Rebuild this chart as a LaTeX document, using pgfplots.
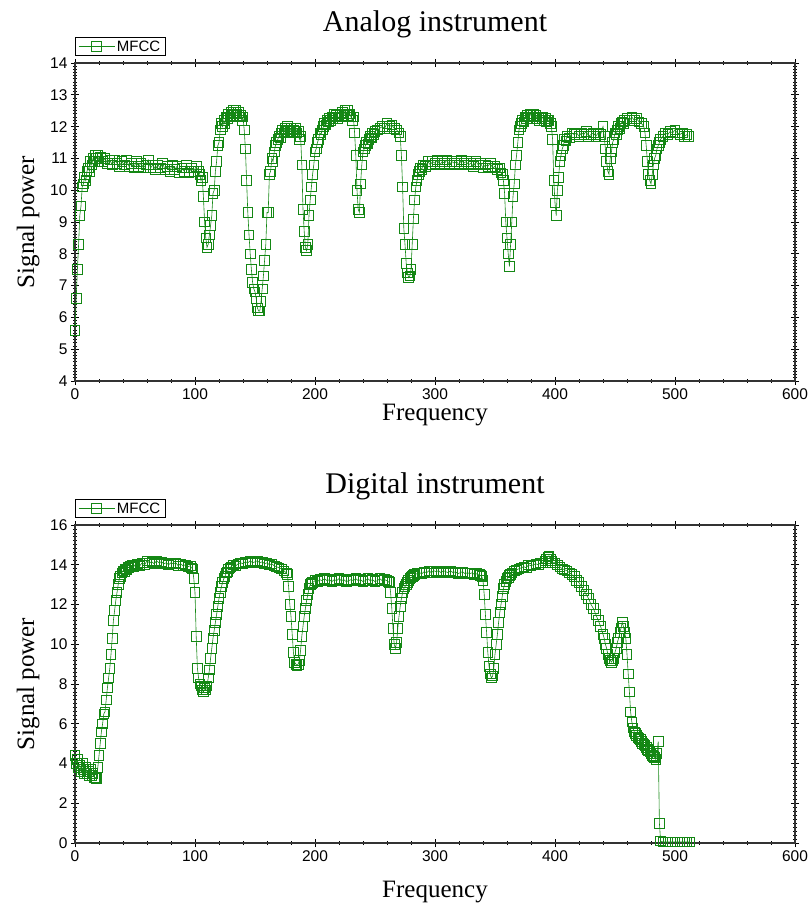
\documentclass[border=0pt]{standalone}
\usepackage{pgfplots}
\pgfplotsset{compat=1.18}
\usepackage{fontspec}
\setmainfont{Liberation Serif}
\newfontfamily\arial{Liberation Sans}
\definecolor{mfcc}{RGB}{20,135,20}

\pgfplotsset{
  panel/.style={
    scale only axis, width=720pt, height=318pt,
    xmin=0, xmax=600, xtick={0,100,...,600}, minor x tick num=4,
    axis line style={line width=1.2pt, black!80},
    every tick/.style={black, line width=0.9pt},
    tick align=center, major tick length=8pt, minor tick length=4pt,
    minor y tick num=9,
    ticklabel style={font=\arial\fontsize{15.5}{15.5}\selectfont},
    /pgf/number format/assume math mode=true,
    title style={font=\fontsize{30}{30}\selectfont, at={(0.5,1.08)}, anchor=base},
    xlabel style={font=\fontsize{25}{25}\selectfont, anchor=base},
    ylabel style={font=\fontsize{25}{25}\selectfont, at={(-0.065,0.5)}, anchor=center},
    xlabel={Frequency}, ylabel={Signal power},
    legend style={at={(0,1)}, anchor=south west, yshift=7pt, draw=black, line width=0.8pt,
      font=\arial\fontsize{15}{15}\selectfont, inner xsep=3pt, inner ysep=1pt, row sep=0pt},
    legend image code/.code={\draw[mark repeat=2,mark phase=2] plot coordinates {(0pt,0pt)(18pt,0pt)(36pt,0pt)};},
  },
  series/.style={color=mfcc, line width=0.6pt, mark=square, mark size=4.8pt,
    mark options={line width=0.8pt}},
}

\begin{document}
\begin{tikzpicture}
\useasboundingbox (-75pt,-523pt) rectangle (734pt,381pt);
\begin{axis}[panel, ymin=4, ymax=14, ytick={4,5,...,14}, title={Analog instrument},
  xlabel style={at={(0.5,-0.125)}}]
\addplot[series] coordinates {
(0,5.6)(1,6.6)(2,7.5)(3,8.3)(4,9.2)(5,9.5)(6,10.1)(7,10.2)(8,10.4)(9,10.3)(10,10.6)(11,10.7)(12,10.6)(13,10.9)(14,10.8)(15,11.0)(16,10.9)(17,11.1)(18,11.0)(19,11.1)(20,10.9)
(21,11.05)(23,10.9)(25,11.0)(27,10.85)(29,10.95)(31,10.8)(33,10.95)(35,10.85)(37,10.75)(39,10.9)(41,10.8)(43,10.95)(45,10.75)(47,10.85)(49,10.7)(51,10.9)(53,10.75)(55,10.85)(57,10.7)(59,10.8)
(61,10.95)(63,10.7)(65,10.8)(67,10.65)(69,10.8)(71,10.7)(73,10.85)(75,10.65)(77,10.75)(79,10.6)(81,10.8)(83,10.65)(85,10.75)(87,10.55)(89,10.7)(91,10.6)(93,10.8)(95,10.55)(97,10.7)(99,10.6)
(101,10.75)(103,10.6)(104,10.5)(105,10.3)(106,10.4)(107,9.8)(108,9.0)(109,8.5)(110,8.2)(111,8.3)(112,8.6)(113,8.9)(114,9.2)(115,9.9)(116,10.0)(117,10.6)(118,10.9)(119,11.4)(120,11.5)
(121,11.9)(122,12.1)(123,12.0)(124,12.2)(125,12.1)(126,12.3)(127,12.25)(128,12.4)(129,12.3)(130,12.45)(131,12.35)(132,12.5)(133,12.4)(134,12.5)(135,12.4)(136,12.45)(137,12.3)(138,12.35)(139,12.2)(140,12.3)
(141,11.9)(142,11.3)(143,10.3)(144,9.3)(145,8.6)(146,8.0)(147,7.5)(148,7.1)(149,6.9)(150,6.8)(151,6.6)(152,6.3)(153,6.2)(154,6.2)(155,6.5)(156,6.9)(157,7.3)(158,7.8)(159,8.3)(160,9.3)
(161,9.3)(162,10.5)(163,10.6)(164,11.0)(165,10.9)(166,11.2)(167,11.4)(168,11.5)(169,11.6)(170,11.7)(171,11.65)(172,11.8)(173,11.9)(174,11.8)(175,11.95)(176,11.85)(177,12.0)(178,11.9)(179,11.85)(180,11.95)
(181,11.8)(182,11.9)(183,11.85)(184,11.95)(185,11.8)(186,11.85)(187,11.6)(188,11.7)(189,10.8)(190,9.4)(191,8.7)(192,8.2)(193,8.1)(194,8.3)(195,9.2)(196,9.7)(197,10.1)(198,10.5)(199,10.8)(200,11.2)
(201,11.3)(202,11.5)(203,11.6)(204,11.8)(205,11.75)(206,11.9)(207,12.0)(208,12.1)(209,12.05)(210,12.2)(211,12.15)(212,12.25)(213,12.2)(214,12.3)(215,12.25)(216,12.4)(217,12.3)(218,12.35)(219,12.25)(220,12.3)
(221,12.4)(222,12.3)(223,12.45)(224,12.35)(225,12.5)(226,12.4)(227,12.5)(228,12.35)(229,12.4)(230,12.3)(231,12.2)(232,12.3)(233,11.8)(234,11.1)(235,10.0)(236,9.4)(237,9.3)(238,10.2)(239,10.8)(240,11.2)
(241,11.3)(242,11.4)(243,11.5)(244,11.45)(245,11.6)(246,11.7)(247,11.65)(248,11.8)(249,11.75)(250,11.85)(252,11.9)(254,11.95)(256,12.0)(258,11.95)(260,12.1)(262,12.0)(264,12.05)(266,11.95)(268,11.9)(270,11.8)
(271,11.7)(272,11.1)(273,10.1)(274,8.8)(275,8.3)(276,7.7)(277,7.4)(278,7.25)(279,7.3)(280,7.5)(281,8.3)(282,9.1)(283,9.7)(284,10.1)(285,10.3)(286,10.5)(287,10.6)(288,10.7)(289,10.65)(290,10.8)
(292,10.75)(294,10.9)(296,10.8)(298,10.9)(300,10.85)(302,10.95)(304,10.8)(306,10.9)(308,10.85)(310,10.95)(312,10.8)(314,10.9)(316,10.85)(318,10.9)(320,10.8)(322,10.95)(324,10.85)(326,10.9)(328,10.8)(330,10.85)
(332,10.75)(334,10.9)(336,10.8)(338,10.85)(340,10.7)(342,10.8)(344,10.75)(346,10.85)(348,10.7)(350,10.75)(352,10.65)(354,10.7)(355,10.55)(356,10.5)(357,10.3)(358,9.9)(359,9.0)(360,8.5)(361,8.0)(362,7.6)
(363,8.3)(364,9.0)(365,9.8)(366,10.2)(367,10.8)(368,11.1)(369,11.5)(370,11.9)(371,12.0)(372,12.1)(373,12.2)(374,12.15)(375,12.3)(376,12.25)(377,12.35)(378,12.3)(379,12.4)(380,12.35)(381,12.3)(382,12.4)
(383,12.3)(384,12.35)(385,12.25)(386,12.3)(387,12.2)(388,12.3)(389,12.25)(390,12.3)(391,12.2)(392,12.25)(393,12.15)(394,12.2)(395,12.2)(396,12.1)(397,12.0)(398,11.6)(399,10.3)(400,9.6)(401,9.2)(402,10.0)
(403,10.4)(404,10.9)(405,11.1)(406,11.3)(407,11.4)(408,11.6)(409,11.55)(410,11.7)(412,11.65)(414,11.8)(416,11.75)(418,11.8)(420,11.7)(422,11.8)(424,11.75)(426,11.85)(428,11.7)(430,11.75)(432,11.8)(434,11.7)
(436,11.8)(438,11.75)(440,12.0)(441,11.7)(442,11.3)(443,10.9)(444,10.6)(445,10.5)(446,11.0)(447,11.2)(448,11.5)(449,11.6)(450,11.8)(451,11.75)(452,11.9)(453,12.0)(454,11.95)(455,12.1)(456,12.15)(457,12.1)
(458,12.2)(460,12.25)(462,12.2)(464,12.3)(466,12.2)(468,12.25)(470,12.15)(472,12.1)(474,12.0)(475,11.8)(476,11.4)(477,10.9)(478,10.5)(479,10.3)(480,10.2)(481,10.5)(482,10.8)(483,11.0)(484,11.1)(485,11.3)
(486,11.4)(487,11.5)(488,11.6)(490,11.7)(492,11.8)(494,11.75)(496,11.85)(498,11.8)(500,11.9)(502,11.8)(504,11.75)(506,11.8)(508,11.7)(510,11.75)(511,11.7)
};
\addlegendentry{MFCC}
\end{axis}
\begin{axis}[panel, at={(0,-144pt)}, anchor=north west, ymin=0, ymax=16, ytick={0,2,...,16}, title={Digital instrument},
  xlabel style={at={(0.5,-0.17)}}]
\addplot[series] coordinates {
(0,4.4)(1,4.0)(2,4.2)(3,3.8)(4,3.9)(5,3.6)(6,4.0)(7,3.7)(8,3.5)(9,3.8)(10,3.5)(11,3.6)(12,3.4)(13,3.7)(14,3.4)(15,3.5)(16,3.3)(17,3.3)(18,3.25)(19,3.8)(20,4.4)
(21,5.0)(22,5.6)(23,6.0)(24,6.5)(25,6.6)(26,7.2)(27,7.8)(28,8.3)(29,8.8)(30,9.5)(31,10.3)(32,11.2)(33,11.7)(34,12.2)(35,12.6)(36,13.0)(37,13.3)(38,13.4)(39,13.6)(40,13.7)
(41,13.65)(42,13.8)(43,13.75)(44,13.9)(45,13.85)(46,13.95)(47,13.9)(48,14.0)(49,13.9)(50,14.0)(52,14.05)(54,13.95)(56,14.1)(58,14.0)(60,14.2)(62,14.1)(64,14.15)(66,14.05)(68,14.2)(70,14.1)
(72,14.15)(74,14.05)(76,14.1)(78,14.0)(80,14.1)(82,14.05)(84,14.1)(86,13.95)(88,14.05)(90,13.95)(92,14.0)(94,13.9)(96,13.95)(97,13.85)(98,13.8)(99,13.3)(100,12.6)(101,10.4)(102,8.8)(103,8.3)
(104,8.0)(105,7.9)(106,7.7)(107,7.6)(108,7.8)(109,7.7)(110,7.9)(111,8.3)(112,8.7)(113,9.3)(114,9.8)(115,10.3)(116,10.7)(117,11.1)(118,11.5)(119,11.9)(120,12.3)(121,12.6)(122,12.9)(123,13.1)
(124,13.3)(125,13.4)(126,13.6)(127,13.65)(128,13.8)(129,13.85)(130,13.9)(132,14.0)(134,13.95)(136,14.05)(138,14.1)(140,14.05)(142,14.15)(144,14.1)(146,14.2)(148,14.1)(150,14.15)(152,14.2)(154,14.1)(156,14.15)
(158,14.05)(160,14.1)(162,14.0)(164,14.05)(166,13.95)(168,13.9)(170,13.85)(172,13.8)(174,13.7)(176,13.6)(177,13.5)(178,12.9)(179,12.0)(180,11.4)(181,10.5)(182,9.6)(183,9.1)(184,9.0)(185,8.95)(186,9.0)
(187,9.2)(188,9.7)(189,10.4)(190,10.9)(191,11.4)(192,11.8)(193,12.2)(194,12.5)(195,12.8)(196,13.0)(197,13.05)(198,13.1)(200,13.2)(202,13.15)(204,13.25)(206,13.2)(208,13.3)(210,13.2)(212,13.25)(214,13.15)
(216,13.25)(218,13.2)(220,13.3)(222,13.2)(224,13.25)(226,13.15)(228,13.2)(230,13.25)(232,13.2)(234,13.3)(236,13.2)(238,13.25)(240,13.15)(242,13.2)(244,13.3)(246,13.2)(248,13.25)(250,13.15)(252,13.2)(254,13.3)
(256,13.2)(258,13.25)(260,13.2)(261,13.15)(262,13.1)(263,12.6)(264,11.8)(265,10.8)(266,10.0)(267,9.8)(268,10.1)(269,10.8)(270,11.4)(271,11.9)(272,12.3)(273,12.6)(274,12.8)(275,12.9)(276,13.0)(277,13.1)
(278,13.2)(279,13.3)(280,13.35)(281,13.4)(282,13.45)(283,13.5)(285,13.55)(287,13.6)(289,13.55)(291,13.65)(293,13.6)(295,13.7)(297,13.6)(299,13.7)(301,13.65)(303,13.7)(305,13.6)(307,13.7)(309,13.65)(311,13.6)
(313,13.7)(315,13.6)(317,13.65)(319,13.55)(321,13.6)(323,13.65)(325,13.55)(327,13.6)(329,13.55)(331,13.6)(333,13.5)(335,13.55)(337,13.5)(338,13.45)(339,13.4)(340,13.2)(341,12.5)(342,11.5)(343,10.6)(344,9.6)
(345,8.9)(346,8.5)(347,8.3)(348,8.4)(349,8.8)(350,9.5)(351,10.0)(352,10.5)(353,11.1)(354,11.6)(355,12.0)(356,12.4)(357,12.8)(358,13.0)(359,13.15)(360,13.3)(361,13.35)(362,13.45)(363,13.5)(364,13.6)
(366,13.7)(368,13.75)(370,13.8)(372,13.85)(374,13.9)(376,13.85)(378,14.0)(380,13.95)(382,14.0)(384,14.05)(386,14.0)(388,14.1)(390,14.1)(392,14.2)(393,14.3)(394,14.4)(395,14.45)(396,14.3)(397,14.2)(398,14.1)
(400,14.1)(402,14.0)(404,13.9)(406,13.8)(408,13.75)(410,13.7)(412,13.6)(414,13.5)(416,13.4)(418,13.2)(420,13.1)(422,12.9)(424,12.7)(426,12.5)(428,12.3)(430,12.0)(432,11.8)(434,11.5)(436,11.2)(438,10.9)
(440,10.5)(441,10.3)(442,10.0)(443,9.8)(444,9.5)(445,9.3)(446,9.2)(447,9.1)(448,9.2)(449,9.3)(450,9.6)(451,9.8)(452,10.1)(453,10.3)(454,10.6)(455,10.8)(456,11.1)(457,10.9)(458,10.6)(459,10.3)
(460,9.5)(461,8.5)(462,7.6)(463,6.6)(464,6.1)(465,5.8)(466,5.6)(467,5.5)(468,5.4)(469,5.3)(470,5.25)(471,5.2)(472,5.1)(473,5.0)(474,4.95)(475,4.9)(476,4.8)(477,4.7)(478,4.65)(479,4.6)
(480,4.5)(481,4.4)(482,4.35)(483,4.3)(484,4.2)(485,4.5)(486,5.1)(487,1.0)(488,0.1)(490,0.05)(492,0.05)(494,0.05)(496,0.05)(498,0.05)(500,0.05)(502,0.05)(504,0.05)(506,0.05)(508,0.05)(510,0.05)(512,0.05)
};
\addlegendentry{MFCC}
\end{axis}
\end{tikzpicture}
\end{document}
